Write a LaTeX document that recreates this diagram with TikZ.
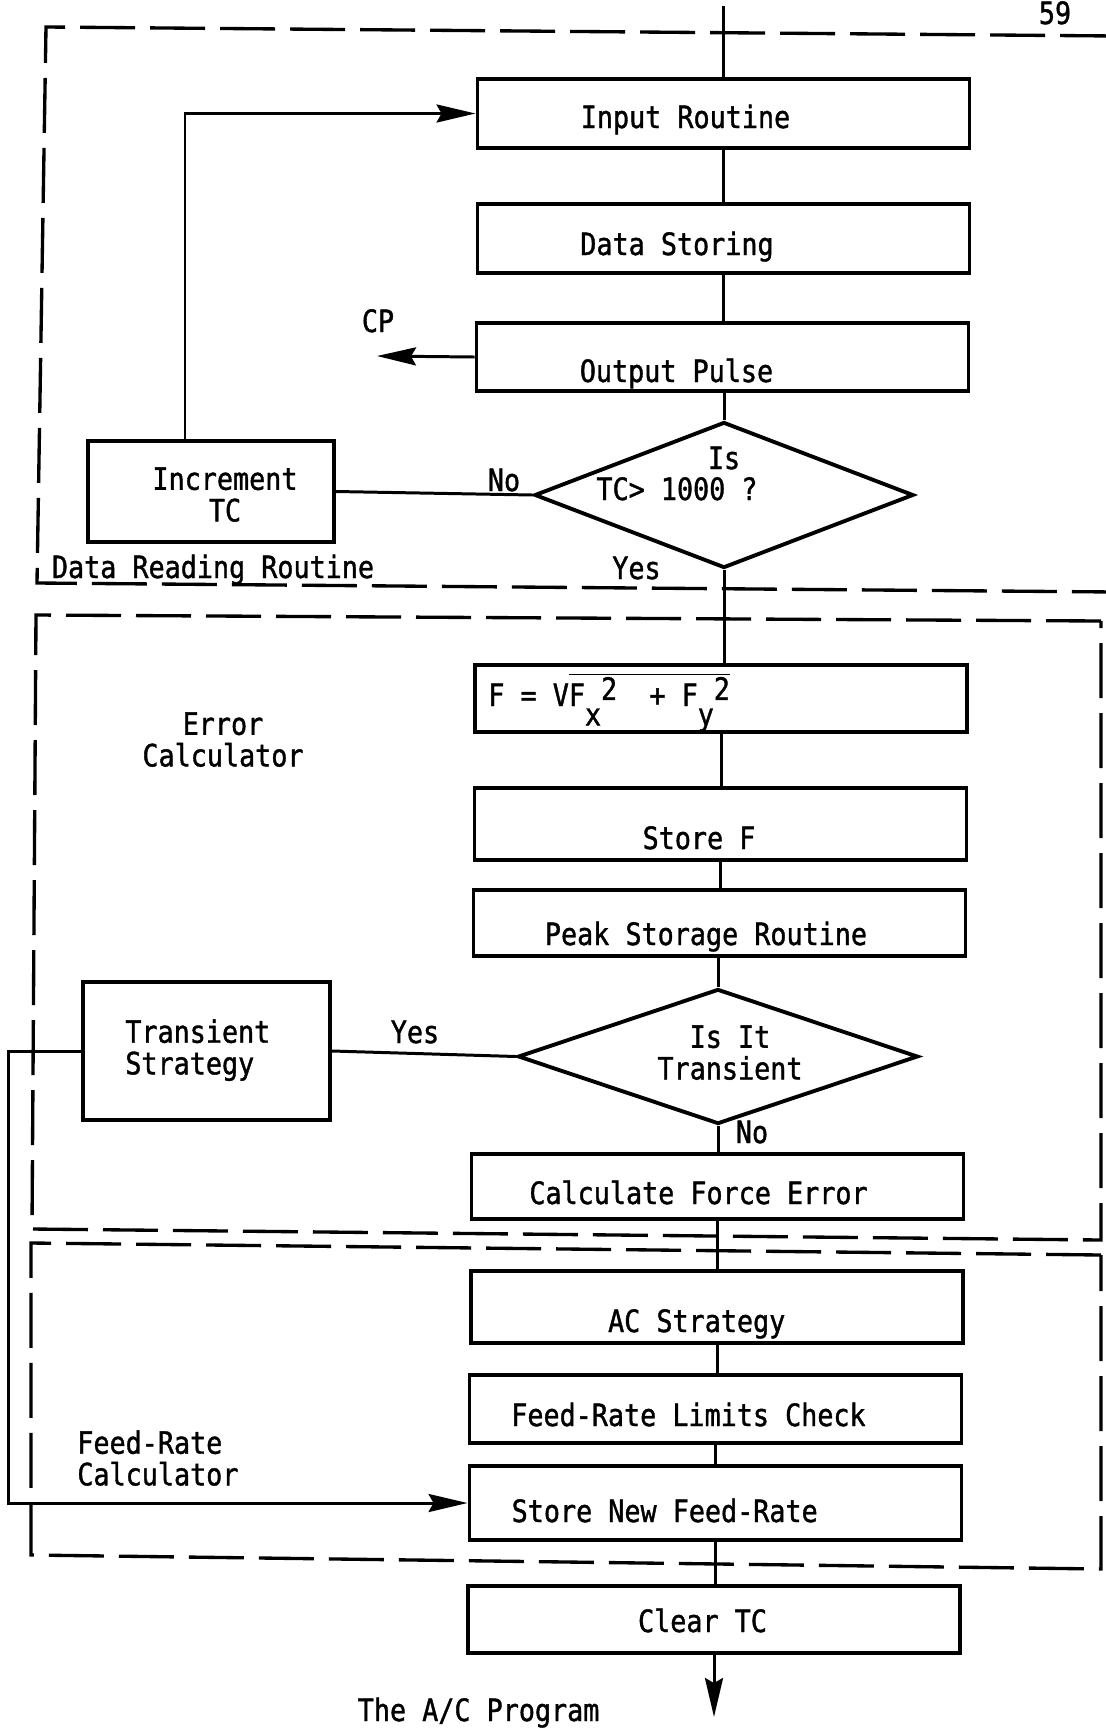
\documentclass[tikz,border=0pt]{standalone}
\usepackage{fontspec}
\setmonofont{DejaVu Sans Mono}[FakeStretch=0.87, FakeBold=1.2]
\usetikzlibrary{arrows.meta,shapes.geometric}
\newcommand{\chartfont}{\ttfamily\fontsize{17.5}{18}\selectfont}
\newcommand{\lowchar}[1]{\raisebox{-11pt}{#1}}
\newcommand{\highchar}[1]{\raisebox{3.5pt}{#1}}

\begin{document}
\begin{tikzpicture}[x=0.2mm, y=-0.2mm,
    every node/.append style={font=\chartfont, inner sep=0pt},
    procbox/.style={draw, line width=2.2pt, minimum width=98.4mm},
    testbox/.style={draw, diamond, line width=2.2pt},
    conn/.style={line width=1.7pt},
    arrowhead/.style={-{Stealth[length=7.8mm, width=3.6mm, inset=1mm]}},
    dashbox/.style={line width=1.9pt, dash pattern=on 11mm off 3mm}]
        \path[use as bounding box, fill=white] (0,0) rectangle (1105,1728);
        % dashed frames of the three parts
        \draw[dashbox] (1115,36) -- (46,27) -- (37,583) -- (1115,592);
        \draw[dashbox] (1101,621) -- (36,615) -- (32,1229) -- (1101,1240) -- cycle;
        \draw[dashbox] (1101,1255) -- (31,1243) -- (31,1555) -- (1101,1569) -- cycle;
        % boxes
        \node[procbox, minimum height=13.8mm] (input) at (723.5,113.5) {};
        \node[procbox, minimum height=13.8mm] (datastore) at (723.5,238.5) {};
        \node[procbox, minimum height=13.6mm] (outpulse) at (722.5,357) {};
        \node[testbox, minimum width=75.8mm, minimum height=29.2mm] (testTC) at (724,495) {};
        \node[draw, line width=2.2pt, minimum width=49.2mm, minimum height=20.2mm] (incTC) at (211,491.5) {};
        \node[procbox, minimum height=13.4mm] (forceCalc) at (721,698.5) {};
        \node[procbox, minimum height=14.4mm] (storeF) at (720.5,824) {};
        \node[procbox, minimum height=13.2mm] (peakStore) at (719.5,923) {};
        \node[testbox, minimum width=80mm, minimum height=27mm] (testTrans) at (718,1056.5) {};
        \node[draw, line width=2.2pt, minimum width=49.4mm, minimum height=27.6mm] (transStrat) at (206.5,1051) {};
        \node[procbox, minimum height=13mm] (forceErr) at (717.5,1186.5) {};
        \node[procbox, minimum height=14.4mm] (acStrat) at (717,1307) {};
        \node[procbox, minimum height=13.6mm] (limCheck) at (715.5,1409) {};
        \node[procbox, minimum height=14.8mm] (storeFeed) at (715.5,1503) {};
        \node[procbox, minimum height=13.4mm] (clearTC) at (714,1619.5) {};
        % texts
        \node[anchor=base] (pageT) at (1055,24) {59};
        \node[anchor=base] (inputT) at (685.5,128) {Input Routine};
        \node[anchor=base] (datastoreT) at (677,255) {Data Storing};
        \node[anchor=base] (outpulseT) at (676.5,382) {Output Pulse};
        \node[anchor=base] (cpT) at (378,332) {CP};
        \node[anchor=base] (isT) at (724,469) {Is};
        \node[anchor=base] (tcT) at (677,500) {TC> 1000 ?};
        \node[anchor=base] (noT) at (504,491) {No};
        \node[anchor=base] (yesT) at (636.5,579) {Yes};
        \node[anchor=north, align=center] (incT) at (225,467) {Increment\\TC};
        \node[anchor=base] (drrT) at (213,578) {Data Reading Routine};
        \node[anchor=north, align=center] (ecT) at (223,712) {Error\\Calculator};
        \node[anchor=base west] (forceT) at (488,706)
            {F = V$\overline{\hbox{F\lowchar{x}\highchar{2}\ \ +\ F\lowchar{y}\highchar{2}}}$};
        \node[anchor=base] (storeFT) at (699,849) {Store F};
        \node[anchor=base] (peakT) at (706,945) {Peak Storage Routine};
        \node[anchor=north, align=center] (isItT) at (730,1025) {Is It\\Transient};
        \node[anchor=base] (noTransT) at (752,1143) {No};
        \node[anchor=base] (yesTransT) at (415,1043) {Yes};
        \node[anchor=north west, align=left] (tsT) at (125,1019) {Transient\\Strategy};
        \node[anchor=base] (forceErrT) at (698.5,1204) {Calculate Force Error};
        \node[anchor=base] (acT) at (696.7,1332) {AC Strategy};
        \node[anchor=base] (limT) at (688.5,1426) {Feed-Rate Limits Check};
        \node[anchor=base] (storeFeedT) at (664.7,1522) {Store New Feed-Rate};
        \node[anchor=base] (clearT) at (702.5,1632) {Clear TC};
        \node[anchor=north west, align=left] (frcT) at (77,1430) {Feed-Rate\\Calculator};
        \node[anchor=base] (progT) at (478.6,1721) {The A/C Program};
        % connectors
        \coordinate (entry) at (723.5,6);
        \coordinate (cpEnd) at (377,356);
        \coordinate (exit) at (714,1717);
        \draw[conn] (entry) -- (input.north);
        \draw[conn] (input.south) -- (input.south |- datastore.north);
        \draw[conn] (datastore.south) -- (datastore.south |- outpulse.north);
        \draw[conn, arrowhead] (outpulse.west) -- (cpEnd);
        \draw[conn] (testTC.north) -- (testTC.north |- outpulse.south);
        \draw[conn] (testTC.west) -- (incTC.east);
        \draw[conn, arrowhead] ([xshift=-5.2mm]incTC.north) |- (input.west);
        \draw[conn] (testTC.south) -- (testTC.south |- forceCalc.north);
        \draw[conn] (forceCalc.south) -- (forceCalc.south |- storeF.north);
        \draw[conn] (storeF.south) -- (storeF.south |- peakStore.north);
        \draw[conn] (testTrans.north) -- (testTrans.north |- peakStore.south);
        \draw[conn] (testTrans.west) -- (transStrat.east);
        \draw[conn] (testTrans.south) -- (testTrans.south |- forceErr.north);
        \draw[conn, arrowhead] (transStrat.west) -- ++(-73,0) |- (storeFeed.west);
        \draw[conn] (forceErr.south) -- (forceErr.south |- acStrat.north);
        \draw[conn] (acStrat.south) -- (acStrat.south |- limCheck.north);
        \draw[conn] (limCheck.south) -- (limCheck.south |- storeFeed.north);
        \draw[conn] (storeFeed.south) -- (storeFeed.south |- clearTC.north);
        \draw[conn, arrowhead] (clearTC.south) -- (exit);
      \end{tikzpicture}
\end{document}
